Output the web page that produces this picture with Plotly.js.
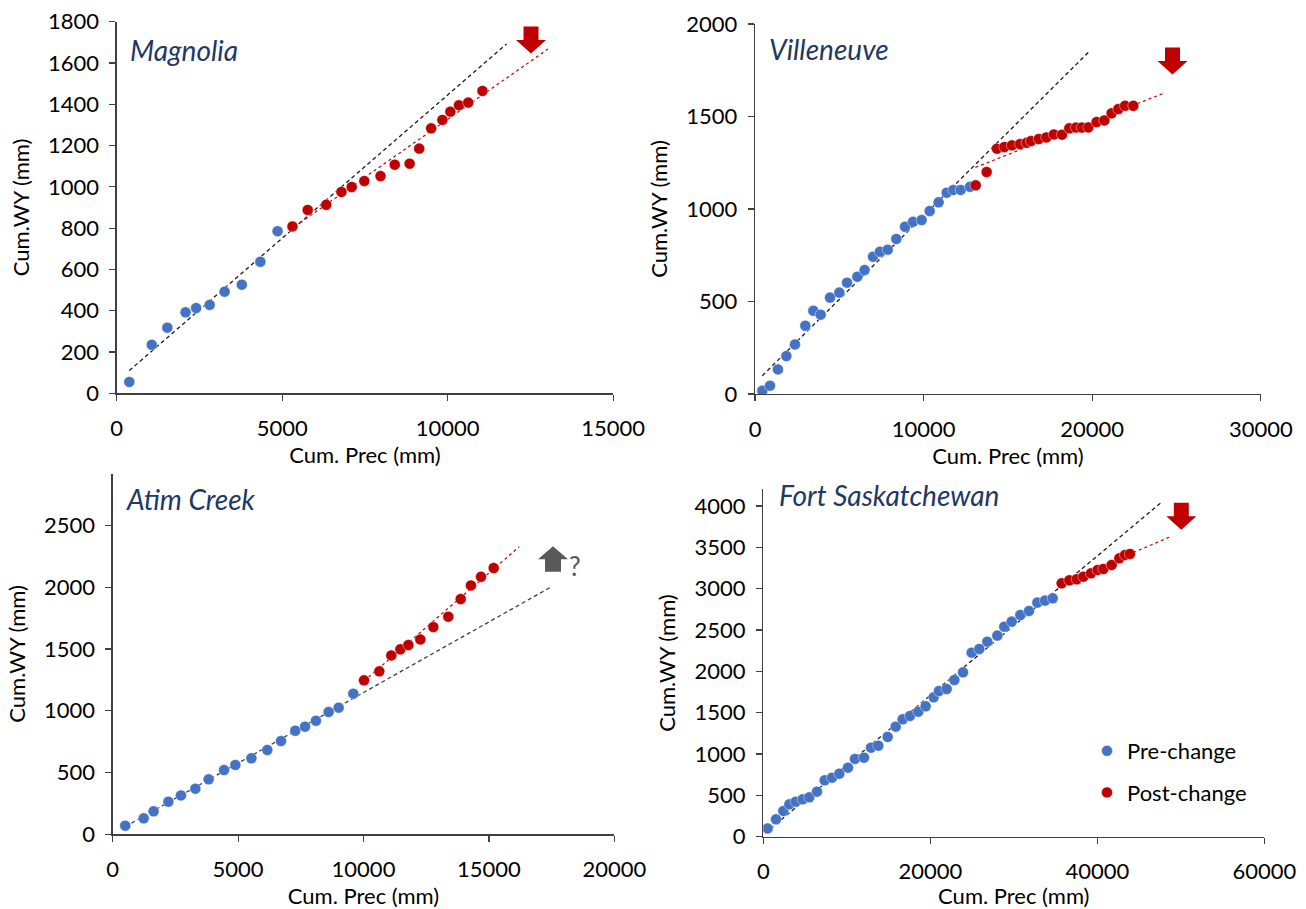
<!DOCTYPE html>
<html>
<head>
<meta charset="utf-8">
<script src="https://cdn.plot.ly/plotly-3.0.1.min.js"></script>
<style>html,body{margin:0;padding:0;background:#fff;}#chart{width:1306px;height:909px;}</style>
</head>
<body>
<div id="chart"></div>
<script>
// ---------- Data ----------
// Magnolia
const magPreX  = [380, 1060, 1530, 2080, 2400, 2810, 3260, 3780, 4340, 4860];
const magPreY  = [55, 235, 318, 392, 413, 428, 492, 526, 637, 785];
const magPostX = [5310, 5770, 6330, 6790, 7100, 7480, 7970, 8400, 8850, 9140, 9500, 9840, 10080, 10340, 10620, 11050];
const magPostY = [808, 888, 913, 975, 999, 1028, 1052, 1107, 1112, 1185, 1283, 1324, 1364, 1395, 1408, 1464];
const magPreTrendX  = [380, 11780];
const magPreTrendY  = [110, 1692];
const magPostTrendX = [5540, 13030];
const magPostTrendY = [826, 1667];

// Villeneuve
const vilPreX  = [435, 890, 1360, 1860, 2370, 2985, 3460, 3895, 4450, 5000, 5460, 6070, 6500, 7000, 7410, 7870, 8380, 8900, 9370, 9885, 10360, 10890, 11370, 11760, 12200, 12750];
const vilPreY  = [18, 45, 133, 205, 268, 369, 450, 429, 521, 548, 602, 634, 670, 742, 769, 780, 838, 904, 931, 940, 989, 1036, 1088, 1103, 1103, 1120];
const vilPostX = [13090, 13740, 14350, 14790, 15240, 15720, 16110, 16370, 16830, 17280, 17730, 18210, 18640, 19040, 19380, 19770, 20260, 20720, 21150, 21550, 21950, 22440];
const vilPostY = [1128, 1200, 1326, 1335, 1344, 1351, 1358, 1367, 1378, 1387, 1403, 1402, 1436, 1440, 1440, 1441, 1470, 1479, 1517, 1540, 1558, 1558];
const vilPreTrendX  = [435, 19810];
const vilPreTrendY  = [99, 1850];
const vilPostTrendX = [13070, 24220];
const vilPostTrendY = [1225, 1625];

// Atim Creek
const atimPreX  = [500, 1235, 1630, 2220, 2720, 3295, 3825, 4440, 4890, 5530, 6165, 6710, 7280, 7670, 8105, 8610, 9010, 9595];
const atimPreY  = [70, 129, 186, 264, 315, 369, 445, 520, 561, 615, 682, 755, 838, 871, 919, 990, 1025, 1138];
const atimPostX = [10020, 10630, 11110, 11470, 11790, 12265, 12785, 13380, 13875, 14285, 14685, 15190];
const atimPostY = [1246, 1319, 1448, 1497, 1532, 1577, 1677, 1761, 1904, 2014, 2084, 2155];
const atimPreTrendX  = [500, 17500];
const atimPreTrendY  = [62, 2004];
const atimPostTrendX = [10020, 16210];
const atimPostTrendY = [1240, 2327];

// Fort Saskatchewan
const fortPreX  = [520, 1520, 2400, 3120, 3880, 4715, 5510, 6430, 7350, 8230, 9105, 10145, 10980, 12060, 12900, 13775, 14895, 15855, 16690, 17570, 18565, 19445, 20400, 21040, 21960, 22880, 23915, 24955, 25870, 26830, 28030, 28865, 29745, 30780, 31820, 32820, 33735, 34655];
const fortPreY  = [100, 210, 311, 391, 424, 452, 476, 545, 682, 714, 762, 835, 940, 956, 1077, 1101, 1206, 1331, 1420, 1460, 1512, 1577, 1686, 1762, 1786, 1895, 1988, 2226, 2270, 2359, 2432, 2540, 2601, 2681, 2730, 2831, 2855, 2883];
const fortPostX = [35730, 36650, 37530, 38330, 39245, 40045, 40720, 41720, 42640, 43320, 43915];
const fortPostY = [3064, 3100, 3113, 3145, 3185, 3226, 3238, 3286, 3367, 3407, 3419];
const fortPreTrendX  = [200, 47790];
const fortPreTrendY  = [41, 4052];
const fortPostTrendX = [35730, 48590];
const fortPostTrendY = [3064, 3621];

const panelTitles = ["Magnolia", "Villeneuve", "Atim Creek", "Fort Saskatchewan"];
const legendNames = ["Pre-change", "Post-change"];
const xTitle = "Cum. Prec (mm)";
const yTitle = "Cum.WY (mm)";

// ---------- Styling ----------
const BLUE = "#4472C4", RED = "#C00000", NAVY = "#203864";
const FONT = "Lato, 'Open Sans', sans-serif";
const FS = 22;

const panels = [
  {pre:[magPreX,magPreY], post:[magPostX,magPostY], preT:[magPreTrendX,magPreTrendY], postT:[magPostTrendX,magPostTrendY], tcol:"#1a1a1a"},
  {pre:[vilPreX,vilPreY], post:[vilPostX,vilPostY], preT:[vilPreTrendX,vilPreTrendY], postT:[vilPostTrendX,vilPostTrendY], tcol:"#1a1a1a"},
  {pre:[atimPreX,atimPreY], post:[atimPostX,atimPostY], preT:[atimPreTrendX,atimPreTrendY], postT:[atimPostTrendX,atimPostTrendY], tcol:"#3b3f4a"},
  {pre:[fortPreX,fortPreY], post:[fortPostX,fortPostY], preT:[fortPreTrendX,fortPreTrendY], postT:[fortPostTrendX,fortPostTrendY], tcol:"#1a1a1a"}
];

const traces = [];
panels.forEach((p, i) => {
  const xa = i === 0 ? "x" : "x" + (i + 1);
  const ya = i === 0 ? "y" : "y" + (i + 1);
  const isLegend = i === 3;
  traces.push({x:p.preT[0], y:p.preT[1], xaxis:xa, yaxis:ya, mode:"lines", showlegend:false, hoverinfo:"skip",
               line:{color:p.tcol, width:1.3, dash:"4px,3px"}});
  traces.push({x:p.postT[0], y:p.postT[1], xaxis:xa, yaxis:ya, mode:"lines", showlegend:false, hoverinfo:"skip",
               line:{color:RED, width:1.2, dash:"3px,3px"}});
  traces.push({x:p.pre[0], y:p.pre[1], xaxis:xa, yaxis:ya, mode:"markers", name:legendNames[0],
               legendgroup:"a", showlegend:isLegend,
               marker:{color:BLUE, size:11, line:{color:"rgba(255,255,255,0.7)", width:0.6}}});
  traces.push({x:p.post[0], y:p.post[1], xaxis:xa, yaxis:ya, mode:"markers", name:legendNames[1],
               legendgroup:"b", showlegend:isLegend,
               marker:{color:RED, size:11, line:{color:"rgba(255,255,255,0.7)", width:0.6}}});
});

const W = 1306, H = 909;
function xd(a, b) { return [a / W, b / W]; }
function yd(top, bottom) { return [1 - bottom / H, 1 - top / H]; }

function axBase(extra) {
  return Object.assign({
    showline:true, linecolor:"#404040", linewidth:1.3,
    ticks:"outside", ticklen:6, tickcolor:"#404040", tickwidth:1.2,
    showgrid:false, zeroline:false, fixedrange:true,
    tickformat:"d", exponentformat:"none",
    tickfont:{family:FONT, size:FS, color:"#000"}
  }, extra);
}
function xAx(extra) { return axBase(Object.assign({ticklabelstandoff:9,
  title:{text:xTitle, font:{family:FONT, size:FS, color:"#000"}, standoff:6}}, extra)); }
function yAx(extra) { return axBase(Object.assign({ticklabelstandoff:6,
  title:{text:yTitle, font:{family:FONT, size:FS, color:"#000"}, standoff:12}}, extra)); }

// Decorative block arrows (pixel-sized shapes anchored in data space)
const downArrow = "M -7.5,13.5 L 7.5,13.5 L 7.5,0 L 15,0 L 0,-13.5 L -15,0 L -7.5,0 Z";
const upArrow   = "M -8,-12.5 L 8,-12.5 L 8,0 L 15,0 L 0,13 L -15,0 L -8,0 Z";
function arrow(xref, yref, xa, ya, path, color) {
  return {type:"path", xref:xref, yref:yref, xsizemode:"pixel", ysizemode:"pixel",
          xanchor:xa, yanchor:ya, path:path, fillcolor:color, line:{width:0}};
}
function ptitle(text, x, y) {
  return {text:text, xref:"paper", yref:"paper", x:x/W, y:1-y/H, xanchor:"left", yanchor:"middle", showarrow:false,
          font:{family:FONT, size:28, color:NAVY, style:"italic"}};
}

const layout = {
  width:W, height:H,
  margin:{l:0, r:0, t:0, b:0},
  paper_bgcolor:"#fff", plot_bgcolor:"rgba(0,0,0,0)",
  font:{family:FONT, color:"#000"},
  showlegend:true,
  legend:{x:1087 / W, y:1 - 730 / H, xanchor:"left", yanchor:"top",
          font:{family:FONT, size:FS, color:"#000"}, bgcolor:"rgba(0,0,0,0)",
          traceorder:"grouped", tracegroupgap:10, itemwidth:30},
  xaxis:  xAx({domain:xd(116.7, 613.2), range:[0, 15000], dtick:5000, anchor:"y"}),
  yaxis:  yAx({domain:yd(21.6, 393.3), range:[0, 1800], dtick:200, anchor:"x"}),
  xaxis2: xAx({domain:xd(755, 1260.8), range:[0, 30000], dtick:10000, anchor:"y2"}),
  yaxis2: yAx({domain:yd(24, 394), range:[0, 2000], dtick:500, anchor:"x2"}),
  xaxis3: xAx({domain:xd(112.7, 614.3), range:[0, 20000], dtick:5000, anchor:"y3"}),
  yaxis3: yAx({domain:yd(473.5, 834.3), range:[0, 2920], tick0:0, dtick:500, anchor:"x3"}),
  xaxis4: xAx({domain:xd(763.3, 1264.3), range:[0, 60000], dtick:20000, anchor:"y4"}),
  yaxis4: yAx({domain:yd(489.4, 836.7), range:[0, 4200], tick0:0, dtick:500, anchor:"x4"}),
  annotations:[
    ptitle(panelTitles[0], 128, 50),
    ptitle(panelTitles[1], 767, 49),
    ptitle(panelTitles[2], 124, 499),
    ptitle(panelTitles[3], 777, 495),
    {text:"?", xref:"x3", yref:"y3", x:18450, y:2175, xanchor:"center", yanchor:"middle", showarrow:false,
     font:{family:FONT, size:26, color:"#595959"}}
  ],
  shapes:[
    arrow("x", "y", 12517, 1711, downArrow, RED),
    arrow("x2", "y2", 24763, 1800, downArrow, RED),
    arrow("x4", "y4", 50060, 3875, downArrow, RED),
    arrow("x3", "y3", 17556, 2227, upArrow, "#595959")
  ]
};

Plotly.newPlot("chart", traces, layout, {staticPlot:true, displayModeBar:false});
</script>
</body>
</html>
